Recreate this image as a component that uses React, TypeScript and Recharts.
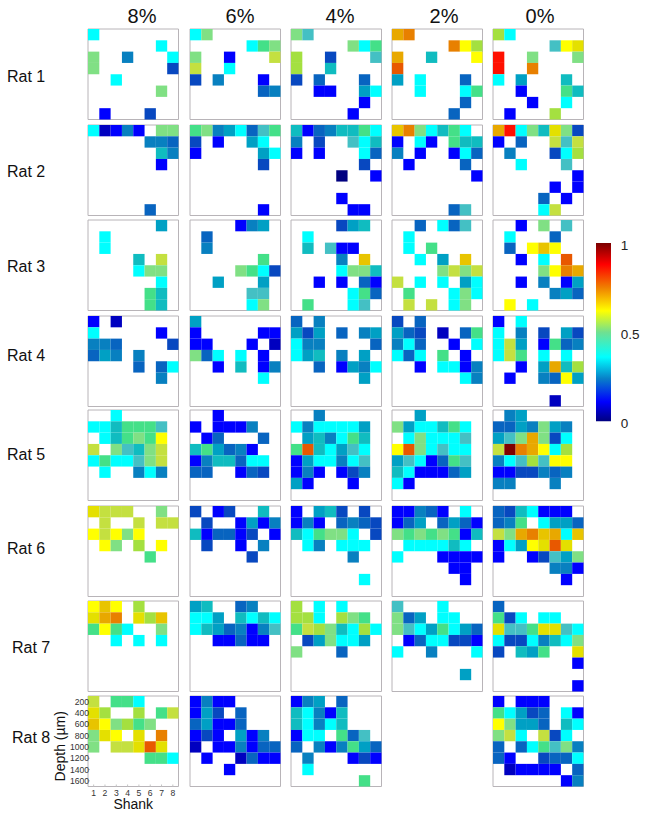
import { BarChart, Bar, ScatterChart, Scatter, XAxis, YAxis, ReferenceArea } from 'recharts';

const FONT = '"Liberation Sans", Arial, sans-serif';

// value of each letter used in the rows below, '.' means no data
const levels: Record<string, number> = {
  n: 0.03, a: 0.07, b: 0.125, d: 0.16, m: 0.2, t: 0.25, u: 0.3, v: 0.33, w: 0.35, c: 0.375,
  g: 0.45, h: 0.5, i: 0.55, j: 0.58, k: 0.62, y: 0.65, o: 0.72, p: 0.77, q: 0.82, r: 0.87, s: 0.92, z: 1,
};

const colormap: [number, string][] = [
  [0.03, '#000080'], [0.07, '#0000c0'], [0.125, '#0000ff'], [0.16, '#0848c0'], [0.2, '#0864c0'],
  [0.25, '#0880c0'], [0.3, '#00a0c4'], [0.33, '#10bcc0'], [0.35, '#44c0c4'], [0.375, '#00ffff'],
  [0.45, '#44e088'], [0.5, '#80e084'], [0.55, '#a4e040'], [0.58, '#c4e040'], [0.62, '#e4e000'],
  [0.65, '#ffff00'], [0.72, '#e8c400'], [0.77, '#e8a800'], [0.82, '#e88000'], [0.87, '#e85800'],
  [0.92, '#ff1000'], [1, '#800000'],
];

const concentrations = ['8%', '6%', '4%', '2%', '0%'];
const ratNames = ['Rat 1', 'Rat 2', 'Rat 3', 'Rat 4', 'Rat 5', 'Rat 6', 'Rat 7', 'Rat 8'];
const shanks = [1, 2, 3, 4, 5, 6, 7, 8];
const depths = [200, 400, 600, 800, 1000, 1200, 1400, 1600];
const barTicks = [0, 0.5, 1];

const rat1At8 = ['c.......', '......c.', 'h..t...c', 'h......d', '..c.....', '......h.', '........', '.b...d..'];
const rat1At6 = ['ch......', '.....cgh', 'h..b...j', 'j..c....', 'd.t...b.', '......mt'];
const rat1At4 = ['hw......', '.....hcg', 'i..d...w', 'i..v....', 'd.m...m.', '..bb..uc', '......b.', '.....b..'];
const rat1At2 = ['pq......', '.....qyi', 'p..v...y', 'r.......', 'u.c...m.', '..c...cg', '......m.', '.....m..'];
const rat1At0 = ['ic......', '.....wyk', 's..h...h', 's..q....', 'c.u...v.', '..b...gv', '...b..c.', '.b...i..'];

const rat2At8 = ['cabtb.hh', '.....ttm', '......vt', '......b.', '........', '........', '........', '.....m..'];
const rat2At6 = ['ghtucmwg', 'd.b..uc.', 'b.....uc', '......d.', '........', '........', '........', '......b.'];
const rat2At4 = ['vbmtvvgc', 't.d..wcv', 'b.b...cm', '......d.', '....n..b', '........', '....b...', '.....bb.'];
const rat2At2 = ['oqhcvgc.', 'b.cb.gvv', 't.b..bcm', '.b....m.', '.......b', '........', '........', '.....mw.'];
const rat2At0 = ['pschvkhd', 'b.m..jwj', '.t...dci', '..c...w.', '.......b', '.....b.b', '....m.b.', '....cj..'];

const rat3At8 = ['......u.', '.c......', '.c......', '....v.j.', '....chh.', '......c.', '.....gv.', '.....gv.'];
const rat3At6 = ['....btu.', '.m......', '.t......', '......g.', '....hgcd', '..u...u.', '.....ww.', '.....ch.'];
const rat3At4 = ['....duv.', '.c......', '.v.wbb..', '....t.o.', '....chhv', '..b.b.mb', '.....cgm', '.g...cw.'];
const rat3At2 = ['..m.cmw.', '.c......', '.c.g....', '..c.u.o.', '....hjhj', 'j.c.c.uc', '.g...chc', '.j.j.ch.'];
const rat3At0 = ['..b.h.w.', '.c...m..', '.m.yoy..', '..b.c.r.', '....hyqp', '..b.t.bu', '.....tum', '.y.c....'];

const rat4At8 = ['b.a.....', 'c.....b.', 'ttm....d', 'mut.t...', '....m.mc', '......t.'];
const rat4At6 = ['u.......', 'b.....bb', 'bb...b.a', 'hmc.c.b.', '..b.v.bt', '......c.'];
const rat4At4 = ['m.t.....', 'udu.m.tu', 'ctt....m', 'cuv.t.u.', '..m.butc', '......u.'];
const rat4At2 = ['d.m.....', 'umd.a.mg', 'tcm..b.c', 'cmc.g.b.', '..b.ccbt', '......ct'];
const rat4At0 = ['b.c.....', 'c.t.d.ud', 'cju.bgmt', 'cjg.c.c.', '..b.upvi', '.b..tmyu', '........', '.....a..'];

const rat5At8 = ['..c.....', 'ccvgggw.', '.cvghgy.', 'j.hwvhj.', 'cgccwhj.', '.c..tct.'];
const rat5At6 = ['..b.....', 'b.bbbt..', '.bm...m.', 'vgumtb..', 'btvvmcc.', 'mm..bmd.'];
const rat5At4 = ['..t.....', 'ctccccu.', '.uvtcgv.', 'grvcuwc.', 'bucctcw.', 'btb.bdt.', 'ub...b..'];
const rat5At2 = ['..u.....', 'huccvgc.', '.chcccw.', 'yrhcwcc.', 'uwcbmgw.', 'vcbbbmu.', 'cb......'];
const rat5At0 = ['.tu.....', 'mmuthut.', 'uwhphdc.', 'jzqpyci.', 'tcwiwyy.', 'bbddtmt.', 'tt...t..'];

const rat6At8 = ['kjjj..h.', '.j..j.jj', 'yjyhy...', '.yh.i.y.', '.....g..'];
const rat6At6 = ['d.bd..v.', '.d..bubt', 'vbmmbd.b', '.d..b.t.', '.....d..'];
const rat6At4 = ['b.uvd.d.', 'btb.mtmd', 'vcghhc.d', '.ct.ccc.', '.....t..', '........', '......c.'];
const rat6At2 = ['bbtmb.c.', 'bmu.mumb', 'hghghgbv', '.ccccvc.', 'c...bbbb', '.....bb.', '......b.'];
const rat6At0 = ['mdvcbbb.', 'mtg.cuum', 'jhpqopco', 'bcuykrk.', 'b..bdwuh', '.....ttb', '......b.'];

const rat7At8 = ['yoy.i...', 'kpq.kio.', 'gygc..h.', '..c.c.c.'];
const rat7At6 = ['uv..mt..', 'ccu.vcvc', 'cvumtbtw', '..bbmbb.'];
const rat7At4 = ['i.c.c...', 'iic.ihg.', 'gjihvcic', '.duhccu.', 'h...m...'];
const rat7At2 = ['w...c...', 'hmu.cc..', 'hwcugcum', '.bmccddb', 'c..t...c', '........', '......u.'];
const rat7At0 = ['m.......', 'gdc.cc..', 'kwwgkkwc', 'cddctvch', 'd.vug..k', '.......b', '........', '.......b'];

const rat8At8 = ['j.ggc...', 'ki..i.gj', 'oyhigh..', 'hky.k.q.', 'h.jjkrk.', '.....ggc'];
const rat8At6 = ['btbb....', 'bud.m...', 'mubbm...', 'bdb.ubt.', 'a.bbtbmm', '.b..ambb', '...b....'];
const rat8At4 = ['btu.m...', 'vctbv...', 'vctcv...', 'bcc.gmw.', 'm.tbtgum', '.t...bdb', '.c......', '......g.'];
const rat8At0 = ['b.bbb...', 'gcudm.cb', 'yhuum.vc', 'hjc.jdc.', 'm.mcgwht', 'mb..dmmc', '.abbbb.m', '......bt'];

const panels = [
  [rat1At8, rat1At6, rat1At4, rat1At2, rat1At0],
  [rat2At8, rat2At6, rat2At4, rat2At2, rat2At0],
  [rat3At8, rat3At6, rat3At4, rat3At2, rat3At0],
  [rat4At8, rat4At6, rat4At4, rat4At2, rat4At0],
  [rat5At8, rat5At6, rat5At4, rat5At2, rat5At0],
  [rat6At8, rat6At6, rat6At4, rat6At2, rat6At0],
  [rat7At8, rat7At6, rat7At4, rat7At2, rat7At0],
  [rat8At8, rat8At6, rat8At4, null, rat8At0],
];

// layout, in page pixels
const colLefts = [88.3, 190.3, 290.7, 392.3, 493.3];
const rowTops = [29.3, 124.7, 220, 315.7, 410.3, 505.7, 601, 696.3];
const titleCenters = [142, 240, 340, 444, 540];
const ratLabelPos = [[7, 83], [7, 178], [7, 273], [7, 362], [7, 461], [7, 555], [12, 654], [12, 744]];
const PLOT = 90.5;
const CELL = PLOT / 8;
const BORDER = '#b8b4b8';
const TICK_LINE = { stroke: '#c4c4c4' };

function colorOf(value: number) {
  return colormap.find(([v]) => v === value)?.[1] ?? '#ffffff';
}

function toPoints(rows: string[]) {
  return rows.flatMap((row, r) =>
    [...row].flatMap((ch, c) =>
      ch === '.' ? [] : [{ shank: shanks[c], depth: depths[r], value: levels[ch] }],
    ),
  );
}

function Square({ cx, cy, payload }: any) {
  return (
    <rect x={cx - CELL / 2} y={cy - CELL / 2} width={CELL} height={CELL} fill={colorOf(payload.value)} />
  );
}

const NoTickLabel = () => <g />;

function Panel({ rows, left, top, labelled }: { rows: string[]; left: number; top: number; labelled: boolean }) {
  const yWidth = labelled ? 22 : 0;
  const xHeight = labelled ? 18 : 0;
  const marginLeft = labelled ? 18 : 1;
  const marginBottom = labelled ? 20 : 1;
  const offsetLeft = marginLeft + yWidth;
  const labelTick = { fontSize: 8.6, fill: '#333', fontFamily: FONT };
  return (
    <div style={{ position: 'absolute', left: left - offsetLeft, top: top - 1 }}>
      <ScatterChart
        width={PLOT + offsetLeft + 1}
        height={PLOT + 1 + xHeight + marginBottom}
        margin={{ top: 1, right: 1, left: marginLeft, bottom: marginBottom }}
      >
        <XAxis
          type="number"
          dataKey="shank"
          domain={[0.5, 8.5]}
          ticks={shanks}
          interval={0}
          height={xHeight}
          axisLine={false}
          tickLine={TICK_LINE}
          tickSize={-2}
          tickMargin={labelled ? 5 : 0}
          tick={labelled ? labelTick : NoTickLabel}
          label={labelled ? { value: 'Shank', position: 'bottom', offset: -5, fontSize: 14, fill: '#111', fontFamily: FONT } : undefined}
        />
        <YAxis
          type="number"
          dataKey="depth"
          domain={[100, 1700]}
          reversed
          ticks={depths}
          interval={0}
          width={yWidth}
          axisLine={false}
          tickLine={TICK_LINE}
          tickSize={-2}
          tickMargin={1}
          tick={labelled ? labelTick : NoTickLabel}
          label={labelled ? { value: 'Depth (µm)', angle: -90, position: 'left', offset: 6, dy: 5, textAnchor: 'middle', fontSize: 14, fill: '#111', fontFamily: FONT } : undefined}
        />
        <XAxis
          xAxisId="top"
          orientation="top"
          type="number"
          domain={[0.5, 8.5]}
          ticks={shanks}
          interval={0}
          height={0}
          axisLine={false}
          tickLine={TICK_LINE}
          tickSize={-2}
          tick={NoTickLabel}
        />
        <YAxis
          yAxisId="right"
          orientation="right"
          type="number"
          domain={[100, 1700]}
          reversed
          ticks={depths}
          interval={0}
          width={0}
          axisLine={false}
          tickLine={TICK_LINE}
          tickSize={-2}
          tick={NoTickLabel}
        />
        <ReferenceArea x1={0.5} x2={8.5} y1={100} y2={1700} fill="none" stroke={BORDER} ifOverflow="visible" />
        <Scatter data={toPoints(rows)} shape={Square} isAnimationActive={false} />
      </ScatterChart>
    </div>
  );
}

function ColorBar() {
  return (
    <div style={{ position: 'absolute', left: 596.3, top: 225.3 }}>
      <BarChart
        width={50.7}
        height={214.4}
        data={[{ top: 1 }]}
        margin={{ top: 18, right: 0, left: 0, bottom: 18 }}
        barCategoryGap={0}
      >
        <defs>
          <linearGradient id="jet" x1="0" y1="0" x2="0" y2="1">
            <stop offset="0" stopColor="#7a0000" />
            <stop offset="0.12" stopColor="#ff0000" />
            <stop offset="0.25" stopColor="#f08000" />
            <stop offset="0.38" stopColor="#ffff00" />
            <stop offset="0.5" stopColor="#70e090" />
            <stop offset="0.64" stopColor="#00ffff" />
            <stop offset="0.76" stopColor="#0880c8" />
            <stop offset="0.89" stopColor="#0000ff" />
            <stop offset="1" stopColor="#00007f" />
          </linearGradient>
        </defs>
        <XAxis hide dataKey="top" />
        <YAxis
          orientation="right"
          domain={[0, 1]}
          ticks={barTicks}
          interval={0}
          width={36}
          axisLine={false}
          tickLine={false}
          tickMargin={4}
          tick={{ fontSize: 13.5, fill: '#222', fontFamily: FONT, textAnchor: 'start', dy: 2 }}
        />
        <Bar dataKey="top" fill="url(#jet)" isAnimationActive={false} />
      </BarChart>
    </div>
  );
}

export default function App() {
  return (
    <div style={{ position: 'absolute', left: 0, top: 0, width: 647, height: 816, background: '#fff', fontFamily: FONT, color: '#111' }}>
      {concentrations.map((name, i) => (
        <div key={name} style={{ position: 'absolute', left: titleCenters[i] - 40, width: 80, top: 3, textAlign: 'center', fontSize: 20, lineHeight: '26px' }}>
          {name}
        </div>
      ))}
      {ratNames.map((name, i) => (
        <div key={name} style={{ position: 'absolute', left: ratLabelPos[i][0], top: ratLabelPos[i][1] - 15, fontSize: 16, lineHeight: '18px' }}>
          {name}
        </div>
      ))}
      {panels.map((row, r) =>
        row.map((rows, c) =>
          rows ? (
            <Panel key={`${r}-${c}`} rows={rows} left={colLefts[c]} top={rowTops[r]} labelled={r === 7 && c === 0} />
          ) : null,
        ),
      )}
      <ColorBar />
    </div>
  );
}
